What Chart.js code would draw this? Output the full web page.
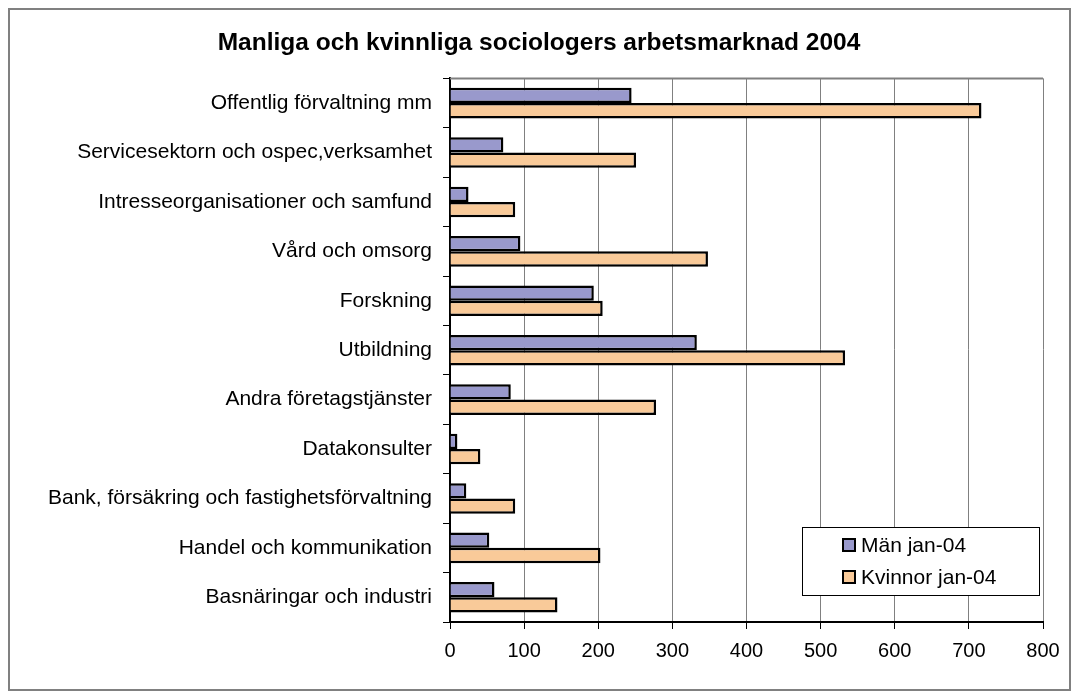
<!DOCTYPE html>
<html lang="sv">
<head>
<meta charset="UTF-8">
<title>Manliga och kvinnliga sociologers arbetsmarknad 2004</title>
<script src="https://cdn.jsdelivr.net/npm/chart.js"></script>
<style>
  html, body { margin: 0; padding: 0; background: #fff; }
  #wrap { position: relative; width: 1079px; height: 700px; }
</style>
</head>
<body>
<div id="wrap"><canvas id="chart" width="1079" height="700"></canvas></div>
<script>
// Branscher (uppifrån och ned)
const branscher = [
  'Offentlig förvaltning mm',
  'Servicesektorn och ospec,verksamhet',
  'Intresseorganisationer och samfund',
  'Vård och omsorg',
  'Forskning',
  'Utbildning',
  'Andra företagstjänster',
  'Datakonsulter',
  'Bank, försäkring och fastighetsförvaltning',
  'Handel och kommunikation',
  'Basnäringar och industri'
];
const man = [245, 72, 25, 95, 194, 333, 82, 10, 22, 53, 60];
const kvinnor = [717, 251, 88, 348, 206, 533, 278, 41, 88, 203, 145];
const xTicks = [0, 100, 200, 300, 400, 500, 600, 700, 800];

const FONT = '"Liberation Sans", Arial, sans-serif';

// ram runt hela diagrammet + ram runt ritytan + legend inne i ritytan
const frames = {
  id: 'frames',
  beforeDraw(chart) {
    const c = chart.ctx;
    c.save();
    c.strokeStyle = '#808080';
    c.lineWidth = 2;
    c.strokeRect(9, 9, 1061, 681);
    c.restore();
  },
  beforeDatasetsDraw(chart) {
    const a = chart.chartArea, c = chart.ctx;
    c.save();
    c.strokeStyle = '#808080';
    c.lineWidth = 2;
    c.beginPath();
    c.moveTo(a.left, a.top);
    c.lineTo(a.right, a.top);
    c.stroke();
    c.restore();
  },
  afterDraw(chart) {
    const c = chart.ctx;
    const x = 802, y = 527, w = 237, h = 68;
    c.save();
    c.fillStyle = '#fff';
    c.fillRect(x, y, w, h);
    c.strokeStyle = '#000';
    c.lineWidth = 1;
    c.strokeRect(x + 0.5, y + 0.5, w, h);
    c.font = '21px ' + FONT;
    c.textBaseline = 'middle';
    chart.data.datasets.forEach((ds, i) => {
      const ly = y + 18 + i * 32;
      c.fillStyle = ds.backgroundColor;
      c.fillRect(843, ly - 6, 12, 12);
      c.strokeStyle = '#000';
      c.lineWidth = 2;
      c.strokeRect(843, ly - 6, 12, 12);
      c.fillStyle = '#000';
      c.fillText(ds.label, 861, ly + 1);
    });
    c.restore();
  }
};

new Chart(document.getElementById('chart'), {
  type: 'bar',
  data: {
    labels: branscher,
    datasets: [
      { label: 'Män jan-04', data: man, backgroundColor: '#9999CC', borderColor: '#000', borderWidth: 2.5 },
      { label: 'Kvinnor jan-04', data: kvinnor, backgroundColor: '#F9CA99', borderColor: '#000', borderWidth: 2.5 }
    ]
  },
  options: {
    indexAxis: 'y',
    responsive: false,
    animation: false,
    layout: { padding: { left: 35, right: 36, top: 0, bottom: 0 } },
    datasets: { bar: { categoryPercentage: 0.62, barPercentage: 1.0 } },
    scales: {
      x: {
        min: 0, max: 800,
        afterBuildTicks(scale) { scale.ticks = xTicks.map(v => ({ value: v })); },
        afterFit(scale) { scale.height = 78; },
        grid: { color: '#808080', lineWidth: 1, tickLength: 7, tickColor: '#000' },
        border: { color: '#000', width: 2 },
        ticks: { color: '#000', padding: 10, font: { family: FONT, size: 20 } }
      },
      y: {
        afterFit(scale) { scale.width = 415; },
        grid: { offset: true, drawOnChartArea: false, tickLength: 7, tickColor: '#000' },
        border: { color: '#000', width: 2 },
        ticks: { color: '#000', padding: 11, font: { family: FONT, size: 21 } }
      }
    },
    plugins: {
      legend: { display: false },
      tooltip: { enabled: false },
      title: {
        display: true,
        text: 'Manliga och kvinnliga sociologers arbetsmarknad 2004',
        color: '#000',
        font: { family: FONT, size: 24.5, weight: 'bold' },
        padding: { top: 29, bottom: 20 }
      }
    }
  },
  plugins: [frames]
});
</script>
</body>
</html>
